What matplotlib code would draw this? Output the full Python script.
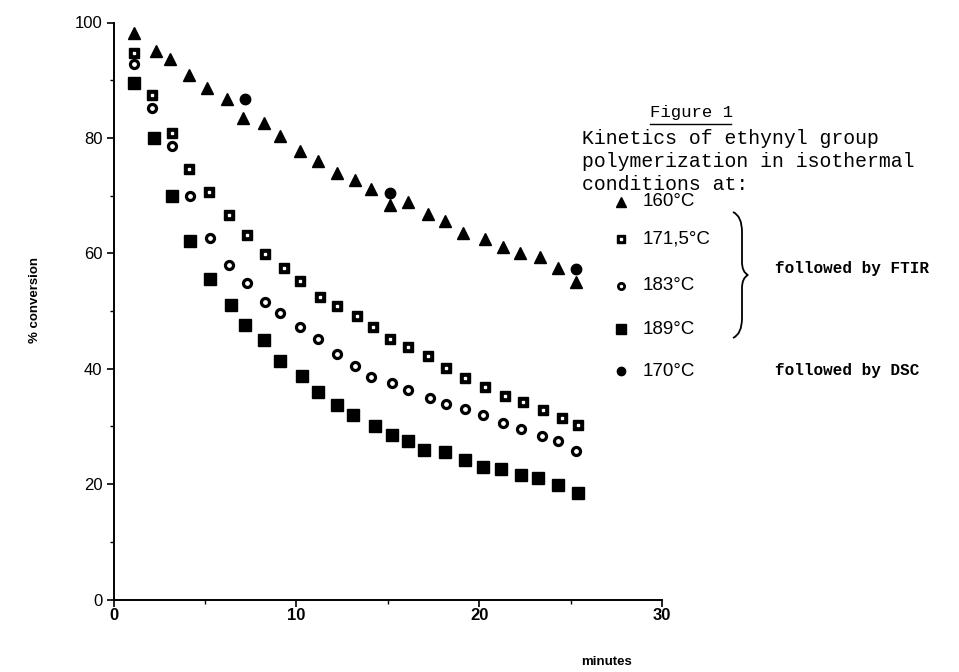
import matplotlib
matplotlib.use("Agg")
import matplotlib.pyplot as plt
from matplotlib.path import Path
from matplotlib.patches import PathPatch
from matplotlib.ticker import MultipleLocator

# data (minutes, % conversion)
t_160 = [1.1, 2.3, 3.1, 4.1, 5.1, 6.2, 7.1, 8.2, 9.1, 10.2, 11.2, 12.2, 13.2,
         14.1, 15.1, 16.1, 17.2, 18.1, 19.1, 20.3, 21.3, 22.2, 23.3, 24.3, 25.3]
c_160 = [98.2, 95.1, 93.6, 90.9, 88.6, 86.7, 83.4, 82.6, 80.4, 77.8, 76.0, 73.9, 72.7,
         71.1, 68.4, 68.9, 66.8, 65.6, 63.5, 62.4, 61.1, 60.0, 59.4, 57.4, 55.1]

t_171 = [1.1, 2.1, 3.2, 4.1, 5.2, 6.3, 7.3, 8.3, 9.3, 10.2, 11.3, 12.2, 13.3,
         14.2, 15.1, 16.1, 17.2, 18.2, 19.2, 20.3, 21.4, 22.4, 23.5, 24.5, 25.4]
c_171 = [94.8, 87.4, 80.9, 74.6, 70.6, 66.6, 63.1, 59.8, 57.4, 55.2, 52.5, 50.9, 49.2,
         47.3, 45.1, 43.8, 42.2, 40.1, 38.4, 36.8, 35.2, 34.2, 32.9, 31.4, 30.2]

t_183 = [1.1, 2.1, 3.2, 4.2, 5.3, 6.3, 7.3, 8.3, 9.1, 10.2, 11.2, 12.2, 13.2,
         14.1, 15.2, 16.1, 17.3, 18.2, 19.2, 20.2, 21.3, 22.3, 23.4, 24.3, 25.3]
c_183 = [92.8, 85.1, 78.6, 70.0, 62.6, 57.9, 54.8, 51.6, 49.6, 47.2, 45.1, 42.5, 40.5,
         38.6, 37.5, 36.3, 34.9, 33.9, 33.0, 32.0, 30.6, 29.5, 28.4, 27.5, 25.8]

t_189 = [1.1, 2.2, 3.2, 4.2, 5.3, 6.4, 7.2, 8.2, 9.1, 10.3, 11.2, 12.2, 13.1,
         14.3, 15.2, 16.1, 17.0, 18.1, 19.2, 20.2, 21.2, 22.3, 23.2, 24.3, 25.4]
c_189 = [89.6, 79.9, 70.0, 62.2, 55.5, 51.0, 47.6, 44.9, 41.4, 38.7, 36.0, 33.7, 31.9,
         30.0, 28.5, 27.5, 25.9, 25.6, 24.2, 23.0, 22.6, 21.6, 21.0, 19.8, 18.4]

t_170 = [7.2, 15.1, 25.3]
c_170 = [86.7, 70.4, 57.2]

legend_labels = ["160°C", "171,5°C", "183°C", "189°C", "170°C"]

fig = plt.figure(figsize=(9.59, 6.72), dpi=100)
ax = fig.add_axes([113.5 / 959, 1 - 599.5 / 672, (662.3 - 113.5) / 959, 577 / 672])

ax.plot(t_160, c_160, "^", color="black", ms=8.5, clip_on=False)
ax.plot(t_171, c_171, "s", color="black", ms=7.8, clip_on=False)
ax.plot(t_171, c_171, "s", color="white", ms=1.8, clip_on=False)
ax.plot(t_183, c_183, "o", mfc="white", mec="black", mew=2.3, ms=5.8, clip_on=False)
ax.plot(t_189, c_189, "s", color="black", ms=8.2, clip_on=False)
ax.plot(t_170, c_170, "o", color="black", ms=7.5, clip_on=False)

ax.set_xlim(0, 30)
ax.set_ylim(0, 100)
ax.xaxis.set_major_locator(MultipleLocator(10))
ax.xaxis.set_minor_locator(MultipleLocator(5))
ax.yaxis.set_major_locator(MultipleLocator(20))
ax.yaxis.set_minor_locator(MultipleLocator(10))
for s in ["top", "right"]:
    ax.spines[s].set_visible(False)
for s in ["left", "bottom"]:
    ax.spines[s].set_linewidth(1.4)
ax.tick_params(which="major", length=5, width=1.2, direction="out")
ax.tick_params(which="minor", length=3, width=1.0, direction="out")
ax.tick_params(axis="y", labelsize=12, pad=3)
ax.tick_params(axis="x", labelsize=12, pad=1)
for lab in ax.get_xticklabels():
    lab.set_fontweight("bold")
    lab.set_family("Liberation Sans")
for lab in ax.get_yticklabels():
    lab.set_family("Liberation Sans")

# overlay in pixel coordinates for the annotation block
ov = fig.add_axes([0, 0, 1, 1])
ov.set_xlim(0, 959)
ov.set_ylim(672, 0)
ov.axis("off")

ov.text(35, 300, "% conversion", rotation=90, ha="center", va="center",
        fontsize=9.5, fontweight="bold", family="Liberation Sans")
ov.text(607, 662, "minutes", ha="center", va="center",
        fontsize=9.5, fontweight="bold", family="Liberation Sans")

mono = "Liberation Mono"
ov.text(650, 112, "Figure 1", ha="left", va="center", fontsize=12.5, family=mono)
ov.plot([650, 731], [124, 124], color="black", lw=1.0)
for i, line in enumerate(["Kinetics of ethynyl group",
                          "polymerization in isothermal",
                          "conditions at:"]):
    ov.text(582, 139 + 22.5 * i, line, ha="left", va="center", fontsize=14.2, family=mono)

marker_styles = [
    dict(marker="^", color="black", ms=6.5),
    dict(marker="s", color="black", ms=6),
    dict(marker="o", mfc="white", mec="black", mew=2, ms=4.5),
    dict(marker="s", color="black", ms=6.5),
    dict(marker="o", color="black", ms=6),
]
legend_y = [202, 239, 286, 329, 371]
for lab, y, st in zip(legend_labels, legend_y, marker_styles):
    ov.plot([621], [y], linestyle="none", **st)
    ov.text(643, y, lab, ha="left", va="center", fontsize=13.5, family="Liberation Sans")
ov.plot([621], [239], "s", color="white", ms=1.5)

# right brace grouping the FTIR series
verts = [(733, 212), (742, 216), (742, 232), (742, 262), (742, 262),
         (742, 272), (748, 275), (742, 278), (742, 288), (742, 288),
         (742, 318), (742, 334), (733, 338)]
codes = [Path.MOVETO, Path.CURVE3, Path.CURVE3, Path.LINETO, Path.LINETO,
         Path.CURVE3, Path.CURVE3, Path.CURVE3, Path.CURVE3, Path.LINETO,
         Path.LINETO, Path.CURVE3, Path.CURVE3]
ov.add_patch(PathPatch(Path(verts, codes), fill=False, lw=1.3, color="black"))

ov.text(775, 268, "followed by FTIR", ha="left", va="center", fontsize=11.5,
        fontweight="bold", family=mono)
ov.text(775, 370, "followed by DSC", ha="left", va="center", fontsize=11.5,
        fontweight="bold", family=mono)

fig.savefig("out.png", dpi=100)
